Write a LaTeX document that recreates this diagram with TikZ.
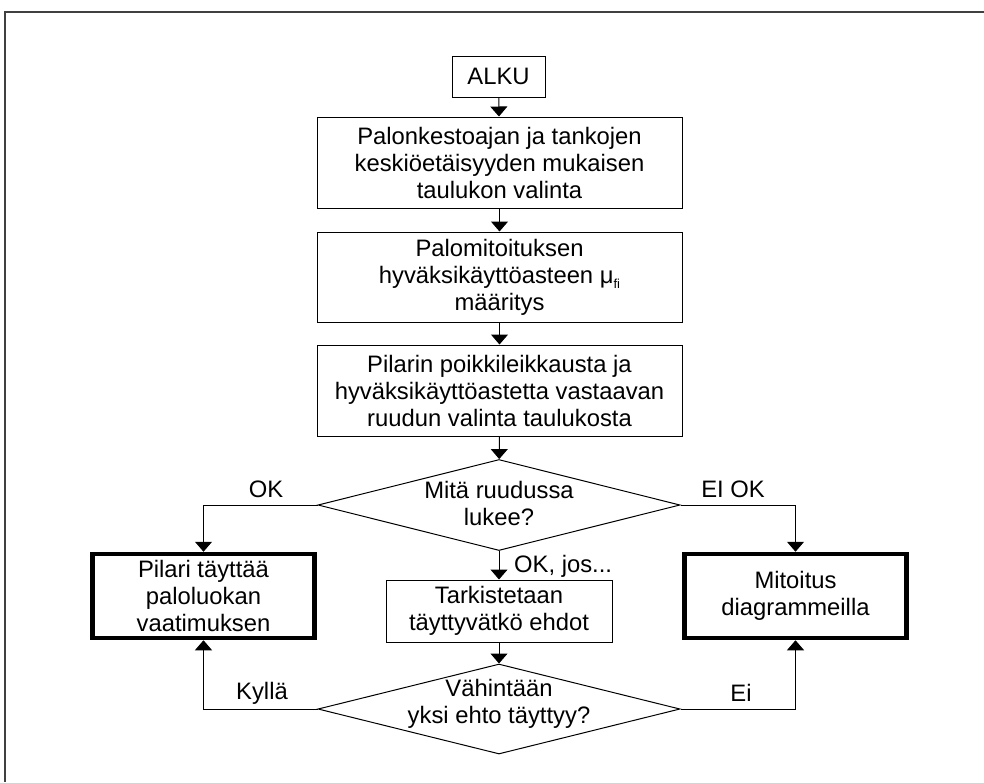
\documentclass[tikz,border=0pt]{standalone}
\usepackage{fontspec}
\setmainfont{Liberation Sans}
\usetikzlibrary{arrows.meta,shapes.geometric}
\begin{document}
\begin{tikzpicture}[x=1pt,y=-1pt,
  every node/.style={font=\fontsize{23.8}{27}\selectfont},
  box/.style={draw,line width=1pt,rectangle,inner sep=0pt,align=center},
  thickbox/.style={draw,line width=4.5pt,rectangle,inner sep=0pt,align=center,
    minimum width=222pt,minimum height=84pt},
  arr/.style={-{Triangle[length=10pt,width=17pt]},line width=1pt},
  dia/.style={draw,diamond,inner sep=0pt,line width=1pt,minimum width=362pt,minimum height=91pt},
  txt/.style={inner sep=0pt,align=center},
  lbl/.style={inner sep=0pt}]
\useasboundingbox (0,0) rectangle (984,782);
\draw[line width=1.5pt,black!75] (5,782) -- (5,12) -- (984,12);

\node[box,minimum width=93pt,minimum height=41pt] (alku) at (498.5,76.5) {ALKU};
\node[box,minimum width=365pt,minimum height=91pt] (b2) at (499.5,162.5)
  {Palonkestoajan ja tankojen\\keskiöetäisyyden mukaisen\\taulukon valinta};
\node[box,minimum width=365pt,minimum height=90pt] (b3) at (499.5,277)
  {Palomitoituksen\\hyväksikäyttöasteen μ\raisebox{-0.4ex}{\fontsize{13}{13}\selectfont fi}\\määritys};
\node[box,minimum width=365pt,minimum height=91pt] (b4) at (499.5,390.5)
  {Pilarin poikkileikkausta ja\\hyväksikäyttöastetta vastaavan\\ruudun valinta taulukosta};
\node[dia] (d1) at (499,505) {};
\node[txt] (d1t) at (499,503) {Mitä ruudussa\\lukee?};
\node[thickbox] (lbox) at (203.5,596) {Pilari täyttää\\paloluokan\\vaatimuksen};
\node[thickbox] (rbox) at (795.5,596) {Mitoitus\\diagrammeilla};
\node[box,minimum width=226pt,minimum height=62pt] (cbox) at (499,611) {Tarkistetaan\\täyttyvätkö ehdot};
\node[dia,minimum height=90pt] (d2) at (499,709) {};
\node[txt] (d2t) at (499,704) {Vähintään\\yksi ehto täyttyy?};

\draw[arr] (alku) -- (b2);
\draw[arr] (b2) -- (b3);
\draw[arr] (b3) -- (b4);
\draw[arr] (b4) -- (d1);
\draw[arr] (d1.west) -| (lbox.north);
\draw[arr] (d1.east) -| (rbox.north);
\draw[arr] (d1.south) -- (cbox.north);
\draw[arr] (cbox) -- (d2);
\draw[arr] (d2.west) -| (lbox.south);
\draw[arr] (d2.east) -| (rbox.south);

\node[lbl] (okl) at (266,489) {OK};
\node[lbl] (eiok) at (733,489) {EI OK};
\node[lbl,anchor=west] (okjos) at (514,566) {OK, jos...};
\node[lbl] (kylla) at (262,693) {Kyllä};
\node[lbl] (ei) at (741,693) {Ei};
\end{tikzpicture}
\end{document}
